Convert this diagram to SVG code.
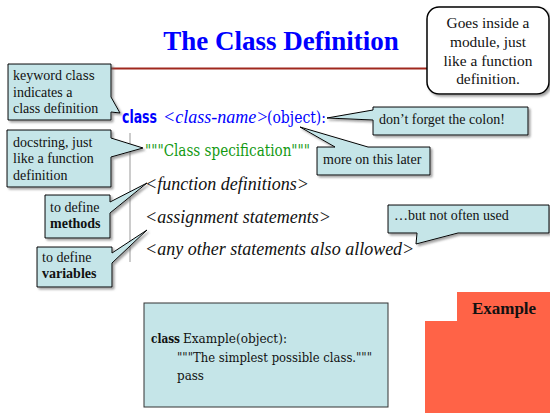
<svg xmlns="http://www.w3.org/2000/svg" width="550" height="413" viewBox="0 0 550 413">
<defs>
<filter id="sh" x="-10%" y="-10%" width="130%" height="140%">
<feDropShadow dx="2" dy="2" stdDeviation="1" flood-color="#666" flood-opacity="0.6"/>
</filter>
</defs>
<style>
.co{fill:#C5E5E8;stroke:#000;stroke-width:1;filter:url(#sh)}
</style>
<rect width="550" height="413" fill="#fff"/>
<g id="title">
<text x="281" y="50" text-anchor="middle" font-family="Liberation Serif, Times New Roman, serif" font-weight="bold" font-size="27" fill="#0000FF">The Class Definition</text>
<line x1="110" y1="68.5" x2="428" y2="68.5" stroke="#A0281E" stroke-width="2"/>
</g>
<g id="module-note">
<rect x="427" y="7" width="122" height="87" rx="12" fill="#fff" stroke="#000" stroke-width="1.5" filter="url(#sh)"/>
<text font-family="Liberation Serif, Times New Roman, serif" font-size="15.4" fill="#111" text-anchor="middle"><tspan x="488" y="28">Goes inside a</tspan><tspan x="488" y="47">module, just</tspan><tspan x="488" y="66">like a function</tspan><tspan x="488" y="84">definition.</tspan></text>
</g>
<g id="code">
<line x1="130" y1="133" x2="130" y2="262" stroke="#999" stroke-width="1"/>
<text x="122" y="123" font-family="DejaVu Sans Condensed, DejaVu Sans, sans-serif" font-weight="bold" font-size="17" fill="#0000FF" textLength="35" lengthAdjust="spacingAndGlyphs">class</text>
<text x="163" y="123" font-family="Liberation Serif, Times New Roman, serif" font-style="italic" font-size="18" fill="#0000FF">&lt;class-name&gt;</text>
<text x="267" y="123" font-family="DejaVu Serif Condensed, DejaVu Serif, serif" font-size="17" fill="#0000FF" textLength="59" lengthAdjust="spacingAndGlyphs">(object):</text>
<text x="145" y="156" font-family="DejaVu Serif Condensed, DejaVu Serif, serif" font-size="17" fill="#119911" textLength="165" lengthAdjust="spacingAndGlyphs">"""Class specification"""</text>
<g font-family="Liberation Serif, Times New Roman, serif" font-style="italic" font-size="18" fill="#111">
<text x="145" y="190">&lt;function definitions&gt;</text>
<text x="145" y="223">&lt;assignment statements&gt;</text>
<text x="145" y="255">&lt;any other statements also allowed&gt;</text>
</g>
</g>
<g id="connectors"></g>
<g font-family="Liberation Serif, Times New Roman, serif" font-size="14" fill="#111">
<g id="keyword-note">
<path class="co" d="M8,64 H111 V97 L120,113 L111,112 V120 H8 Z"/>
<text><tspan x="13" y="80">keyword </tspan><tspan font-family="DejaVu Serif Condensed, DejaVu Serif, serif" font-size="13">class</tspan><tspan x="13" y="97">indicates a</tspan><tspan x="13" y="113">class definition</tspan></text>
</g>
<g id="docstring-note">
<path class="co" d="M7,130 H111 V138 L143,148 L111,157 V187 H7 Z"/>
<text><tspan x="13" y="147">docstring, just</tspan><tspan x="13" y="163">like a function</tspan><tspan x="13" y="180">definition</tspan></text>
</g>
<g id="methods-note">
<path class="co" d="M45,195 H110 V202 L147,183 L110,213 V238 H45 Z"/>
<text><tspan x="50" y="212">to define</tspan><tspan x="50" y="228" font-weight="bold">methods</tspan></text>
</g>
<g id="variables-note">
<path class="co" d="M37,247 H112 V253 L147,230 L112,263 V287 H37 Z"/>
<text><tspan x="42" y="262">to define</tspan><tspan x="42" y="278" font-weight="bold">variables</tspan></text>
</g>
<g id="colon-note">
<path class="co" d="M373,107 H528 V135 H373 V120 L327,118 L373,110 Z"/>
<text x="379" y="124">don’t forget the colon!</text>
</g>
<g id="later-note">
<path class="co" d="M317,147 H335 L300,127 L368,147 H430 V175 H317 Z"/>
<text x="323" y="164">more on this later</text>
</g>
<g id="often-note">
<path class="co" d="M388,205 H549 V233 H458 L416,244 L417,233 H388 Z"/>
<text x="394" y="220">…but not often used</text>
</g>
</g>
<g id="example-box">
<rect x="144" y="303" width="244" height="104" fill="#C5E5E8" stroke="#333" stroke-width="1"/>
<g font-family="DejaVu Serif Condensed, DejaVu Serif, serif" font-size="12" fill="#111">
<text x="151" y="343" font-weight="bold" textLength="29" lengthAdjust="spacingAndGlyphs">class</text>
<text x="183" y="343" textLength="104" lengthAdjust="spacingAndGlyphs">Example(object):</text>
<text x="177" y="362" textLength="195" lengthAdjust="spacingAndGlyphs">"""The simplest possible class."""</text>
<text x="177" y="380" textLength="27" lengthAdjust="spacingAndGlyphs">pass</text>
</g>
</g>
<g id="example-tab">
<path d="M457,292 H550 V413 H425 V321 H457 Z" fill="#FF6347"/>
<text x="504" y="314" text-anchor="middle" font-family="Liberation Serif, Times New Roman, serif" font-weight="bold" font-size="17" fill="#111">Example</text>
</g>
</svg>
